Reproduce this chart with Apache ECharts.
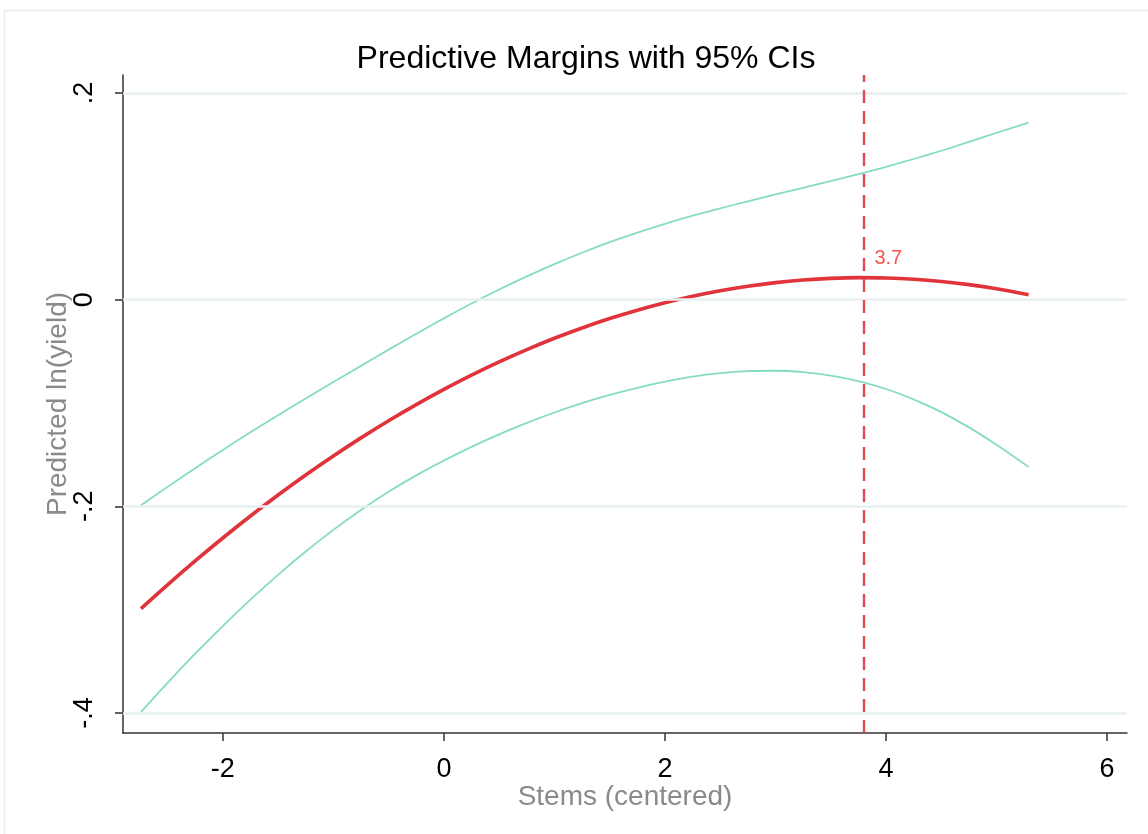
<!DOCTYPE html>
<html>
<head>
<meta charset="utf-8">
<script src="https://cdn.jsdelivr.net/npm/echarts@6/dist/echarts.min.js"></script>
<style>
html,body{margin:0;padding:0;background:#fff;}
#chart{width:1148px;height:834px;}
</style>
</head>
<body>
<div id="chart"></div>
<script>
// ---- data ----
const titleText = 'Predictive Margins with 95% CIs';
const xName = 'Stems (centered)';
const yName = 'Predicted ln(yield)';
const xValues   = [-2.74, -2.5, -2.25, -2, -1.75, -1.5, -1.25, -1, -0.75, -0.5, -0.25, 0, 0.25, 0.5, 0.75, 1, 1.25, 1.5, 1.75, 2, 2.25, 2.5, 2.75, 3, 3.25, 3.5, 3.75, 4, 4.25, 4.5, 4.75, 5, 5.29];
const predicted = [-0.2990, -0.2760, -0.2529, -0.2307, -0.2094, -0.1891, -0.1697, -0.1513, -0.1338, -0.1172, -0.1016, -0.0869, -0.0731, -0.0603, -0.0484, -0.0374, -0.0274, -0.0183, -0.0102, -0.0030, 0.0033, 0.0086, 0.0130, 0.0165, 0.0190, 0.0206, 0.0213, 0.0210, 0.0198, 0.0176, 0.0145, 0.0105, 0.0047];
const upperCI   = [-0.1990, -0.1812, -0.1631, -0.1455, -0.1284, -0.1118, -0.0956, -0.0798, -0.0641, -0.0484, -0.0331, -0.0181, -0.0037, 0.0098, 0.0225, 0.0344, 0.0454, 0.0556, 0.0649, 0.0734, 0.0812, 0.0884, 0.0952, 0.1018, 0.1082, 0.1147, 0.1214, 0.1285, 0.1361, 0.1441, 0.1526, 0.1615, 0.1714];
const lowerCI   = [-0.3990, -0.3708, -0.3427, -0.3159, -0.2904, -0.2664, -0.2438, -0.2228, -0.2035, -0.1860, -0.1701, -0.1557, -0.1425, -0.1304, -0.1193, -0.1092, -0.1002, -0.0922, -0.0853, -0.0794, -0.0746, -0.0712, -0.0692, -0.0688, -0.0702, -0.0735, -0.0788, -0.0865, -0.0965, -0.1089, -0.1236, -0.1405, -0.1620];
const xTicks = [-2, 0, 2, 4, 6];
const xTickLabels = ['-2', '0', '2', '4', '6'];
const yTicks = [-0.4, -0.2, 0, 0.2];
const yTickLabels = ['-.4', '-.2', '0', '.2'];
const xRange = [-2.903, 6.18];
const yRange = [-0.4194, 0.2174];
const peakX = 3.8;
const peakY = 0.0213;
const peakLabel = '3.7';

const zip = (xs, ys) => xs.map((x, i) => [x, ys[i]]);
const labelFor = (vals, labels) => v => {
  const i = vals.findIndex(t => Math.abs(t - v) < 1e-9);
  return i >= 0 ? labels[i] : '';
};
const FONT = '"Liberation Sans", Arial, sans-serif';

const chart = echarts.init(document.getElementById('chart'), null, {renderer: 'canvas'});
chart.setOption({
  animation: false,
  backgroundColor: '#ffffff',
  title: {
    text: titleText,
    left: 581, top: 38, textAlign: 'center',
    textStyle: {fontFamily: FONT, fontSize: 32, fontWeight: 'normal', color: '#000'}
  },
  graphic: [{
    type: 'rect', silent: true, z: -10,
    shape: {x: 4.5, y: 10.5, width: 1160, height: 840},
    style: {fill: 'none', stroke: '#e6edf2', lineWidth: 1.5}
  }],
  grid: {left: 123, right: 21, top: 75, bottom: 101, containLabel: false},
  xAxis: {
    type: 'value', min: xRange[0], max: xRange[1],
    name: xName, nameLocation: 'middle', nameGap: 50, nameMoveOverlap: false,
    nameTextStyle: {fontFamily: FONT, fontSize: 28, color: '#8a8a8a'},
    axisLine: {show: true, onZero: false, lineStyle: {color: '#333', width: 1.5}},
    axisTick: {show: true, length: 8, customValues: xTicks, lineStyle: {color: '#333', width: 1.5}},
    axisLabel: {customValues: xTicks, formatter: labelFor(xTicks, xTickLabels), margin: 23,
      fontFamily: FONT, fontSize: 27, color: '#000'},
    splitLine: {show: false}
  },
  yAxis: {
    type: 'value', min: yRange[0], max: yRange[1],
    name: yName, nameLocation: 'middle', nameGap: 51, nameRotate: 90, nameMoveOverlap: false,
    nameTextStyle: {fontFamily: FONT, fontSize: 28, color: '#8a8a8a'},
    axisLine: {show: true, onZero: false, lineStyle: {color: '#333', width: 1.5}},
    axisTick: {show: true, length: 8, customValues: yTicks, lineStyle: {color: '#333', width: 1.5}},
    axisLabel: {customValues: yTicks, formatter: labelFor(yTicks, yTickLabels), rotate: 90, margin: 25,
      fontFamily: FONT, fontSize: 27, color: '#000'},
    splitLine: {show: false}
  },
  series: [
    {
      name: 'grid', type: 'line', data: [], silent: true, z: 1,
      markLine: {
        silent: true, symbol: 'none', animation: false,
        label: {show: false},
        lineStyle: {color: '#e8f0f2', width: 2.5, type: 'solid'},
        data: yTicks.map(v => ({yAxis: v}))
      }
    },
    {
      name: 'Upper CI', type: 'line', data: zip(xValues, upperCI), smooth: 0.3,
      showSymbol: false, z: 3, lineStyle: {color: '#86dcc0', width: 1.8}
    },
    {
      name: 'Lower CI', type: 'line', data: zip(xValues, lowerCI), smooth: 0.3,
      showSymbol: false, z: 3, lineStyle: {color: '#86dcc0', width: 1.8}
    },
    {
      name: 'Predicted', type: 'line', data: zip(xValues, predicted), smooth: 0.3,
      showSymbol: false, z: 4, lineStyle: {color: '#e0333a', width: 3.6},
      markLine: {
        silent: true, symbol: 'none', animation: false,
        label: {show: false},
        lineStyle: {color: '#e04a4e', width: 2.4, type: [13, 8]},
        data: [{xAxis: peakX}]
      }
    },
    {
      name: 'peak', type: 'scatter', data: [[peakX, peakY]], symbolSize: 1, z: 5,
      itemStyle: {color: 'rgba(0,0,0,0)'},
      label: {show: true, formatter: peakLabel, position: 'right', distance: 10, offset: [0, -19],
        fontFamily: FONT, fontSize: 20, color: '#f02828'}
    }
  ]
});
</script>
</body>
</html>
